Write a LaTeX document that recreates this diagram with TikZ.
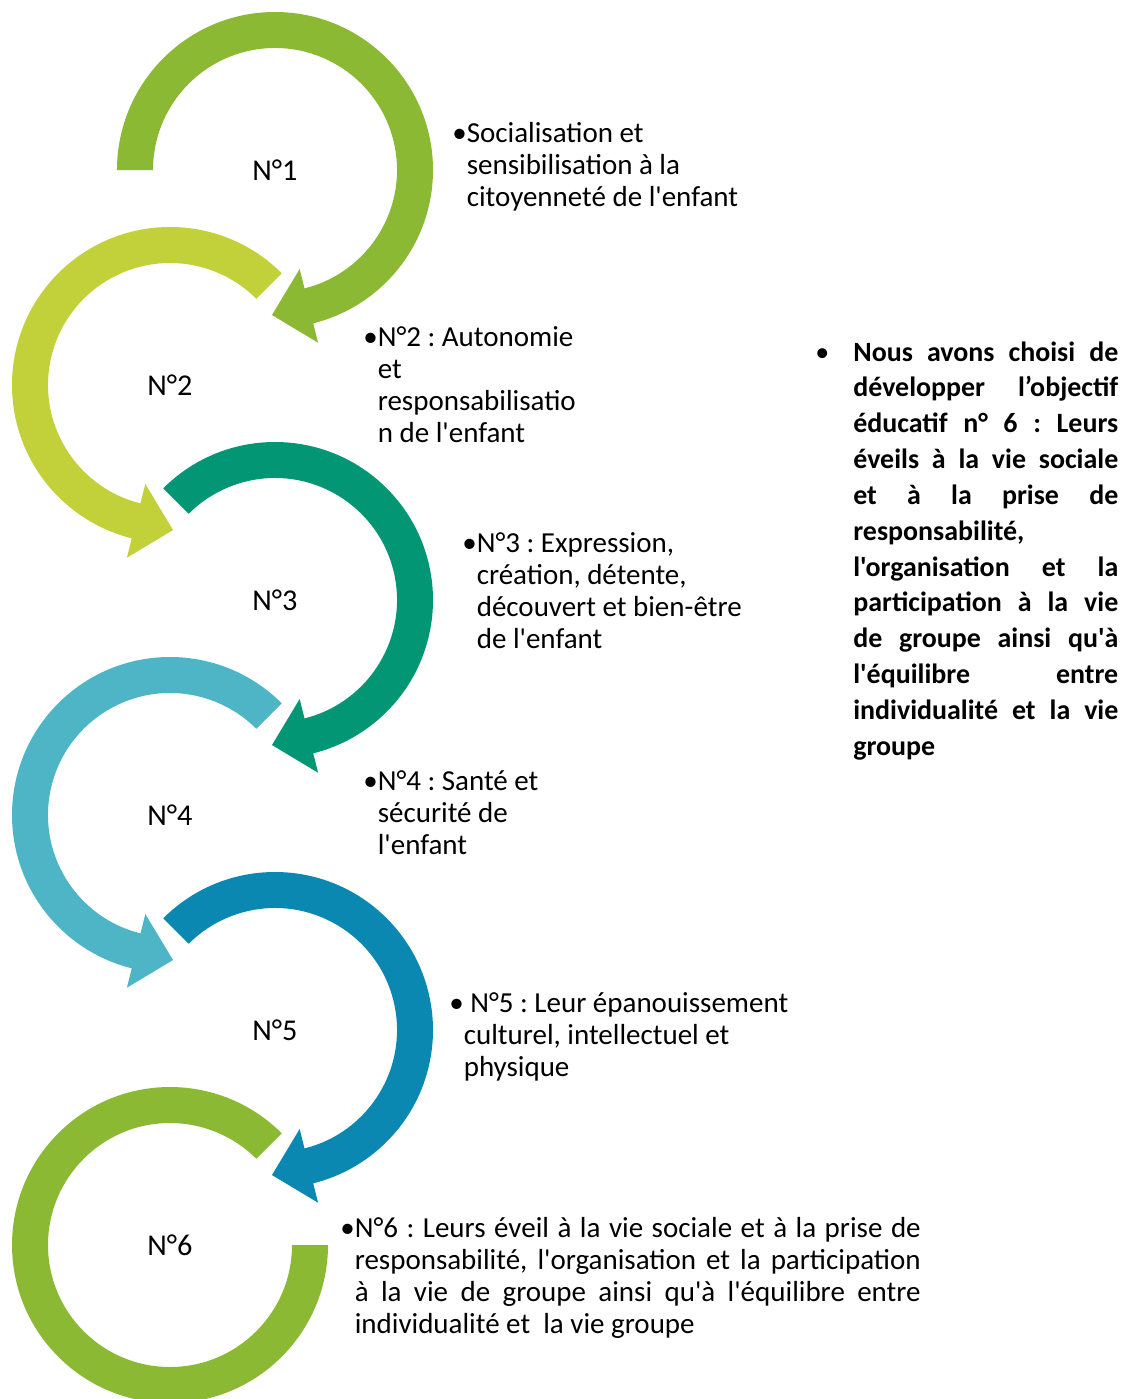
\documentclass[tikz,border=0pt]{standalone}
\usepackage{fontspec}
\setmainfont{Carlito}[Ligatures=TeXOff]
\usepackage{xcolor}
\usepackage{tikz}
\usetikzlibrary{calc}
\frenchspacing

\definecolor{vert}{RGB}{139,185,52}
\definecolor{vertclair}{RGB}{194,208,58}
\definecolor{sarcelle}{RGB}{3,150,117}
\definecolor{bleuclair}{RGB}{77,181,198}
\definecolor{bleu}{RGB}{11,136,178}

% anneau fleche, sens horaire : centre, angle de depart, couleur
\newcommand{\flecheD}[3]{%
  \fill[#3] ($(#1)+(#2:158)$) arc[start angle=#2,end angle=-76,radius=158]
    -- ($(#1)+(-76:178)$) -- ($(#1)+(-76:140)+(-166:38)$) -- ($(#1)+(-76:102)$)
    -- ($(#1)+(-76:122)$) arc[start angle=-76,end angle=#2,radius=122] -- cycle;}
% anneau fleche, sens trigo : centre, couleur
\newcommand{\flecheG}[2]{%
  \fill[#2] ($(#1)+(45:158)$) arc[start angle=45,end angle=256,radius=158]
    -- ($(#1)+(256:178)$) -- ($(#1)+(256:140)+(346:38)$) -- ($(#1)+(256:102)$)
    -- ($(#1)+(256:122)$) arc[start angle=256,end angle=45,radius=122] -- cycle;}
\newcommand{\lignej}[2]{\makebox[#1][s]{#2}}

\tikzset{
  numero/.style={inner sep=0pt,font=\fontsize{17.2}{20}\selectfont},
  objectif/.style={anchor=base west,inner sep=0pt,font=\fontsize{16.5}{18.3}\selectfont},
  choix/.style={anchor=base west,inner sep=0pt,font=\bfseries\fontsize{15.9}{20.4}\selectfont}
}

\begin{document}
\begin{tikzpicture}[x=0.02cm,y=0.02cm]
	\useasboundingbox (0,0) rectangle (1138,-1399);
	\coordinate (c1) at (275,-170);
	\coordinate (c2) at (170,-385);
	\coordinate (c3) at (275,-600);
	\coordinate (c4) at (170,-815);
	\coordinate (c5) at (275,-1030);
	\coordinate (c6) at (170,-1245);
	\flecheD{c1}{180}{vert}
	\flecheG{c2}{vertclair}
	\flecheD{c3}{135}{sarcelle}
	\flecheG{c4}{bleuclair}
	\flecheD{c5}{135}{bleu}
	\fill[vert] ($(c6)+(45:158)$) arc[start angle=45,end angle=360,radius=158] -- ($(c6)+(0:122)$) arc[start angle=360,end angle=45,radius=122] -- cycle;
	\node[numero] (n1) at (c1) {N°1};
	\node[numero] (n2) at (c2) {N°2};
	\node[numero] (n3) at (c3) {N°3};
	\node[numero] (n4) at (c4) {N°4};
	\node[numero] (n5) at (c5) {N°5};
	\node[numero] (n6) at (c6) {N°6};
	\node[objectif] (t1) at (452,-142) {\textbullet\begin{tabular}[t]{@{}l@{}}Socialisation et\\sensibilisation à la\\citoyenneté de l'enfant\end{tabular}};
	\node[objectif] (t2) at (363,-346) {\textbullet\begin{tabular}[t]{@{}l@{}}N°2 : Autonomie\\et\\responsabilisatio\\n de l'enfant\end{tabular}};
	\node[objectif] (t3) at (462,-552) {\textbullet\begin{tabular}[t]{@{}l@{}}N°3 : Expression,\\création, détente,\\découvert et bien-être\\de l'enfant\end{tabular}};
	\node[objectif] (t4) at (363,-790) {\textbullet\begin{tabular}[t]{@{}l@{}}N°4 : Santé et\\sécurité de\\l'enfant\end{tabular}};
	\node[objectif] (t5) at (449,-1012) {\textbullet\begin{tabular}[t]{@{}l@{}}\ N°5 : Leur épanouissement\\culturel, intellectuel et\\physique\end{tabular}};
	\node[objectif] (t6) at (340,-1237) {\textbullet\begin{tabular}[t]{@{}l@{}}\lignej{11.32cm}{N°6 : Leurs éveil à la vie sociale et à la prise de}\\\lignej{11.32cm}{responsabilité, l'organisation et la participation}\\\lignej{11.32cm}{à la vie de groupe ainsi qu'à l'équilibre entre}\\individualité et \ la vie groupe\end{tabular}};
	\node[choix] (choix) at (815,-361) {\makebox[0.76cm][l]{\mdseries\textbullet}\begin{tabular}[t]{@{}l@{}}\lignej{5.3cm}{Nous avons choisi de}\\\lignej{5.3cm}{développer l’objectif}\\\lignej{5.3cm}{éducatif n° 6 : Leurs}\\\lignej{5.3cm}{éveils à la vie sociale}\\\lignej{5.3cm}{et à la prise de}\\responsabilité,\\\lignej{5.3cm}{l'organisation et la}\\\lignej{5.3cm}{participation à la vie}\\\lignej{5.3cm}{de groupe ainsi qu'à}\\\lignej{5.3cm}{l'équilibre entre}\\\lignej{5.3cm}{individualité et la vie}\\groupe\end{tabular}};
\end{tikzpicture}
\end{document}
